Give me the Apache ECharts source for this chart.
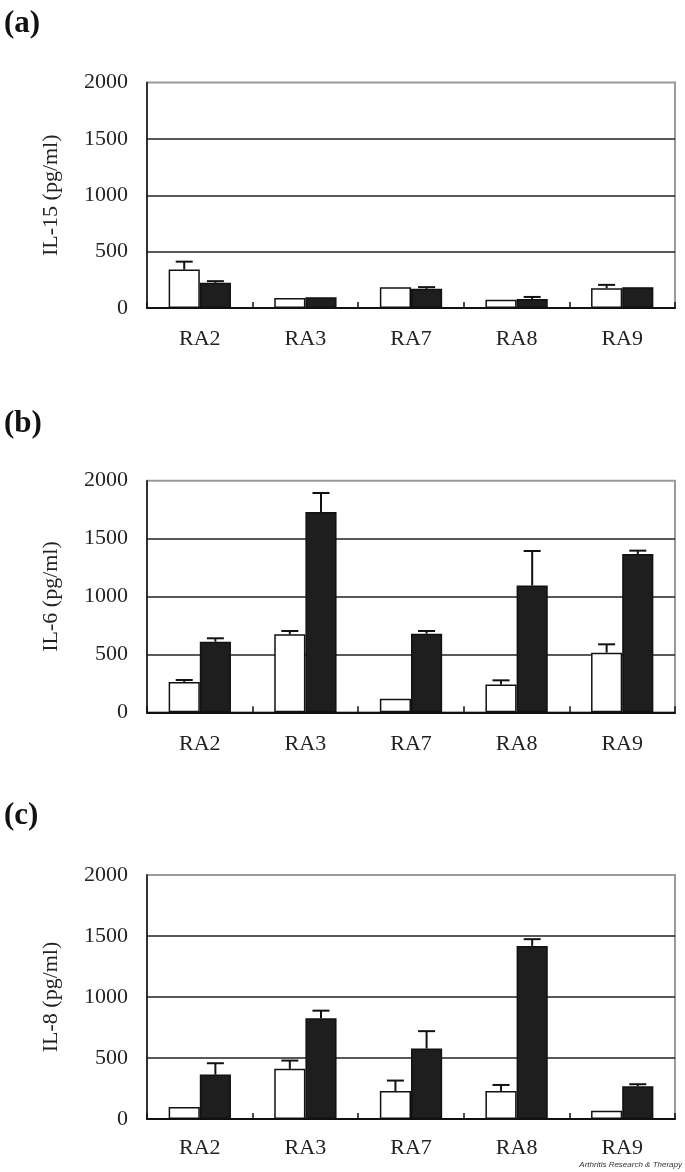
<!DOCTYPE html>
<html>
<head>
<meta charset="utf-8">
<script src="https://cdn.jsdelivr.net/npm/echarts@6/dist/echarts.min.js"></script>
<style>
html,body{margin:0;padding:0;background:#fff;}
#chart{width:685px;height:1172px;}
</style>
</head>
<body>
<div id="chart"></div>
<script>
// ---- data ----
const categories = ['RA2', 'RA3', 'RA7', 'RA8', 'RA9'];
const yTicks = [0, 500, 1000, 1500, 2000];

const il15White    = [342, 89, 185, 74, 176];
const il15WhiteErr = [69, 0, 0, 0, 29];
const il15Black    = [223, 95, 170, 80, 185];
const il15BlackErr = [15, 0, 15, 18, 0];

const il6White    = [262, 673, 118, 239, 515];
const il6WhiteErr = [17, 29, 0, 37, 72];
const il6Black    = [610, 1730, 679, 1094, 1367];
const il6BlackErr = [29, 164, 23, 299, 29];

const il8White    = [99, 411, 230, 230, 68];
const il8WhiteErr = [0, 68, 85, 49, 0];
const il8Black    = [364, 825, 578, 1419, 268];
const il8BlackErr = [93, 63, 142, 55, 17];

const panelLetters = ['(a)', '(b)', '(c)'];
const axisNames = ['IL-15 (pg/ml)', 'IL-6 (pg/ml)', 'IL-8 (pg/ml)'];
const credit = 'Arthritis Research & Therapy';

// ---- layout / style ----
const SERIF = '"Liberation Serif","Times New Roman",serif';
const BAR_FRAC = 0.295;
const CAP = 17;
const panels = [
  {top: 82.5, height: 225.5, labelMargin: 20, titleTop: 8,
   white: il15White, whiteErr: il15WhiteErr, black: il15Black, blackErr: il15BlackErr},
  {top: 480.7, height: 231.6, labelMargin: 21, titleTop: 408,
   white: il6White, whiteErr: il6WhiteErr, black: il6Black, blackErr: il6BlackErr},
  {top: 875, height: 244, labelMargin: 18, titleTop: 800,
   white: il8White, whiteErr: il8WhiteErr, black: il8Black, blackErr: il8BlackErr}
];

function errRenderer(side) {
  return function (params, api) {
    const i = api.value(0), v = api.value(1), e = api.value(2);
    if (!e) return null;
    const base = api.coord([i, v]);
    const tip = api.coord([i, v + e]);
    const bw = api.size([1, 0])[0] * BAR_FRAC;
    const cx = base[0] + side * bw / 2;
    const st = {stroke: '#111', lineWidth: 2};
    return {type: 'group', children: [
      {type: 'line', shape: {x1: cx, y1: base[1], x2: cx, y2: tip[1]}, style: st},
      {type: 'line', shape: {x1: cx - CAP / 2, y1: tip[1], x2: cx + CAP / 2, y2: tip[1]}, style: st}
    ]};
  };
}

const grid = [], xAxis = [], yAxis = [], series = [], title = [];
panels.forEach((p, k) => {
  grid.push({left: 147, top: p.top, width: 528, height: p.height, show: true,
             borderColor: '#9a9a9a', borderWidth: 2, backgroundColor: 'transparent'});
  xAxis.push({type: 'category', gridIndex: k, data: categories, boundaryGap: true,
    axisLine: {lineStyle: {color: '#111', width: 2}},
    axisTick: {show: true, inside: true, length: 6, interval: 0, lineStyle: {color: '#111', width: 1.5}},
    axisLabel: {interval: 0, margin: p.labelMargin, color: '#222', fontFamily: SERIF, fontSize: 22},
    splitLine: {show: false}});
  yAxis.push({type: 'value', gridIndex: k, min: yTicks[0], max: yTicks[yTicks.length - 1], interval: 500,
    name: axisNames[k], nameLocation: 'middle', nameGap: 85, nameRotate: 90,
    nameTextStyle: {color: '#222', fontFamily: SERIF, fontSize: 22},
    axisLine: {show: true, lineStyle: {color: '#111', width: 1.5}},
    axisTick: {show: false},
    axisLabel: {margin: 19, color: '#222', fontFamily: SERIF, fontSize: 22, padding: [5, 0, 0, 0],
      formatter: v => String(v)},
    splitLine: {show: true, showMaxLine: false, lineStyle: {color: '#222', width: 1.5}}});
  series.push({type: 'bar', xAxisIndex: k, yAxisIndex: k, data: p.white, barWidth: (BAR_FRAC * 100) + '%', barGap: '0%',
    itemStyle: {color: '#ffffff', borderColor: '#111', borderWidth: 1.5}, silent: true});
  series.push({type: 'bar', xAxisIndex: k, yAxisIndex: k, data: p.black, barWidth: (BAR_FRAC * 100) + '%', barGap: '0%',
    itemStyle: {color: '#1e1e1e', borderColor: '#111', borderWidth: 1.5}, silent: true});
  series.push({type: 'custom', xAxisIndex: k, yAxisIndex: k, renderItem: errRenderer(-1), z: 5,
    data: categories.map((c, i) => [i, p.white[i], p.whiteErr[i]]), encode: {x: 0, y: 1}, silent: true});
  series.push({type: 'custom', xAxisIndex: k, yAxisIndex: k, renderItem: errRenderer(1), z: 5,
    data: categories.map((c, i) => [i, p.black[i], p.blackErr[i]]), encode: {x: 0, y: 1}, silent: true});
  title.push({text: panelLetters[k], left: 4, top: p.titleTop, padding: 0,
    textStyle: {fontFamily: SERIF, fontWeight: 'bold', fontSize: 31, color: '#111'}});
});

const chart = echarts.init(document.getElementById('chart'), null, {renderer: 'canvas'});
chart.setOption({
  animation: false,
  backgroundColor: '#ffffff',
  title: title,
  grid: grid, xAxis: xAxis, yAxis: yAxis, series: series,
  graphic: [{type: 'text', right: 3, top: 1161,
    style: {text: credit, fontFamily: '"Liberation Sans",Arial,sans-serif', fontStyle: 'italic', fontSize: 8, fill: '#333'}}]
});
</script>
</body>
</html>
